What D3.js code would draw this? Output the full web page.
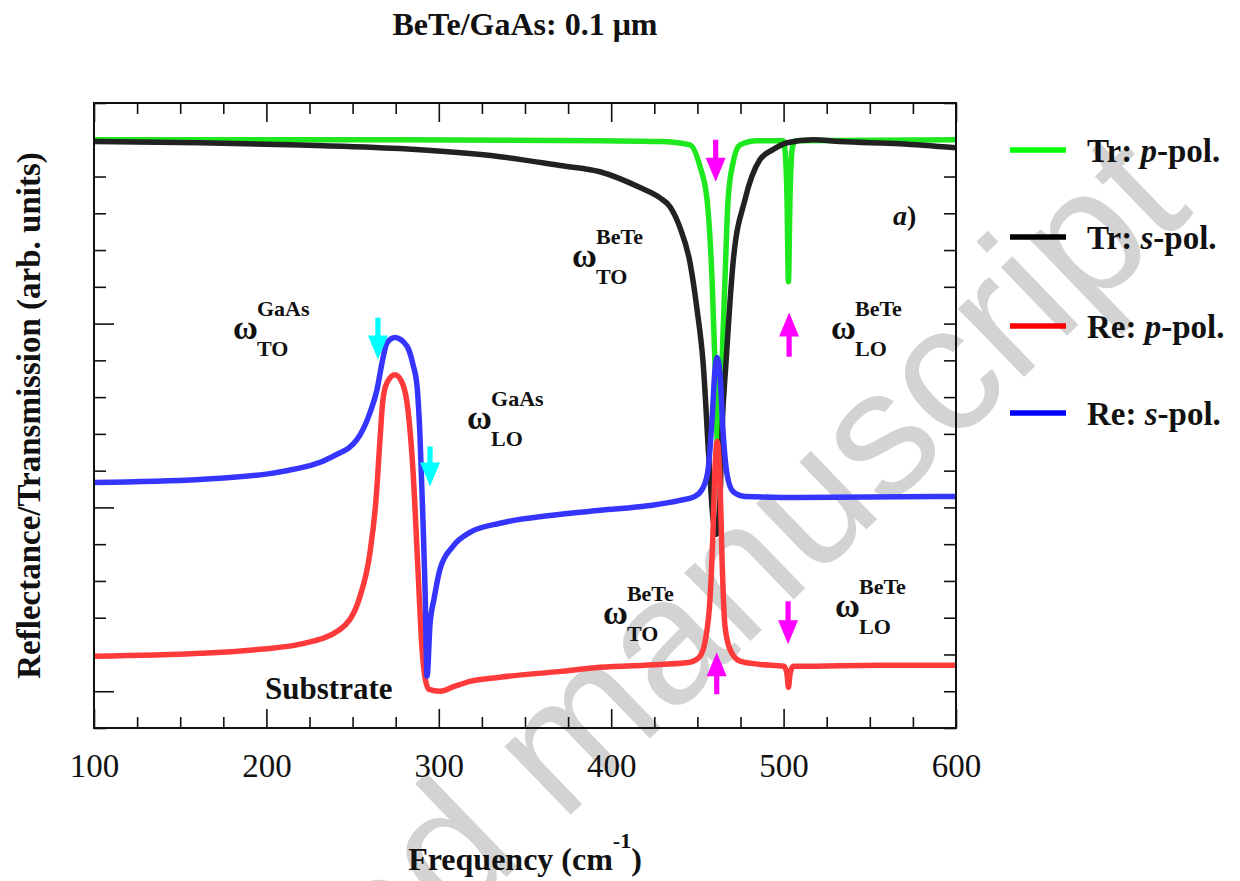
<!DOCTYPE html>
<html><head><meta charset="utf-8">
<script src="https://cdn.jsdelivr.net/npm/d3@7"></script>
<style>body{margin:0;background:#fff}</style>
</head><body>
<svg id="c" width="1240" height="881"></svg>
<script>
// ---------- data ----------
const xMajorTicks = [100, 200, 300, 400, 500, 600];
const yMajorTicks = [0, 0.5, 1.0, 1.5];

// Transmission, p-polarization (green)
const trP = [[100,1.500],[277.5,1.500],[393.5,1.497],[428.3,1.495],[445.7,1.486],[451.5,1.427],[455.6,1.337],[458.5,1.120],[460.2,0.894],[461.4,0.685],[462.0,0.603],[463.1,0.685],[464.3,0.894],[466.0,1.120],[467.8,1.337],[470.7,1.438],[474.7,1.486],[484.6,1.497],[499.7,1.497],[500.8,1.473],[502.0,1.337],[502.8,1.114],[503.7,1.337],[504.9,1.473],[506.6,1.497],[600,1.500]];
// Transmission, s-polarization (black)
const trS = [[100,1.495],[161.5,1.492],[219.5,1.486],[277.5,1.476],[335.5,1.454],[370.3,1.430],[393.5,1.413],[416.7,1.370],[428.3,1.342],[434.1,1.318],[439.9,1.261],[445.7,1.166],[449.8,1.038],[453.3,0.894],[456.8,0.622],[459.1,0.467],[460.9,0.427],[463.1,0.522],[464.3,0.712],[466.6,0.894],[470.7,1.166],[477.6,1.337],[486.3,1.446],[493.8,1.473],[502.0,1.492],[517.1,1.500],[532.7,1.495],[567.5,1.489],[600,1.478]];
// Reflectance, p-polarization (red)
const reP = [[100,0.095],[161.5,0.103],[196.3,0.114],[219.5,0.128],[242.7,0.168],[254.3,0.258],[260.1,0.378],[263.6,0.522],[265.9,0.685],[267.6,0.793],[270.0,0.840],[274.6,0.861],[279.2,0.834],[282.1,0.766],[285.0,0.603],[287.9,0.332],[290.3,0.114],[292.0,0.038],[294.3,0.005],[300.7,0.000],[309.4,0.014],[318.1,0.027],[335.5,0.038],[370.3,0.054],[393.5,0.065],[428.3,0.073],[445.7,0.079],[451.5,0.095],[455.0,0.149],[457.3,0.250],[459.1,0.440],[460.2,0.603],[461.4,0.679],[463.1,0.576],[464.3,0.359],[466.0,0.177],[468.9,0.114],[474.7,0.082],[486.3,0.073],[500.2,0.068],[502.0,0.046],[502.8,0.011],[503.7,0.046],[505.5,0.068],[509.5,0.068],[555.9,0.071],[600,0.071]];
// Reflectance, s-polarization (blue)
const reS = [[100,0.568],[161.5,0.576],[209.6,0.598],[238.6,0.639],[252.6,0.685],[260.1,0.758],[264.2,0.821],[267.1,0.894],[270.0,0.948],[274.6,0.962],[281.6,0.938],[285.0,0.889],[287.4,0.829],[289.1,0.693],[290.8,0.467],[292.0,0.285],[293.2,0.041],[294.9,0.182],[297.2,0.250],[300.7,0.332],[308.2,0.394],[318.1,0.432],[335.5,0.457],[364.5,0.478],[393.5,0.492],[422.5,0.505],[439.9,0.519],[448.6,0.530],[453.3,0.554],[456.2,0.603],[458.5,0.739],[460.2,0.875],[461.4,0.908],[463.1,0.861],[464.8,0.712],[467.2,0.590],[470.7,0.543],[477.6,0.530],[509.5,0.527],[600,0.530]];

const seriesNames  = ["Tr: p-pol.", "Tr: s-pol.", "Re: p-pol.", "Re: s-pol."];
const seriesColors = ["#1ee81e", "#222222", "#ff3a3a", "#3535ff"];
const legendColors = ["#00ff00", "#000000", "#ff0000", "#0000ff"];

// annotation arrows: frequency, tail value, tip value
const arrowsMagenta = [[460.6,1.500,1.386],[503.2,0.910,1.030],[502.6,0.245,0.128],[461.2,-0.008,0.106]];
const arrowsCyan    = [[264.7,1.016,0.902],[294.9,0.666,0.557]];

// phonon labels: frequency, value (omega baseline), superscript, subscript
const phononLabels = [[180.6,0.957,"GaAs","TO"],[316.4,0.712,"GaAs","LO"],[377.3,1.155,"BeTe","TO"],[527.5,0.957,"BeTe","LO"],[395.2,0.182,"BeTe","TO"],[529.8,0.201,"BeTe","LO"]];

// ---------- drawing ----------
const svg = d3.select("#c");
const L = 94, R = 956, T = 103, B = 728;
const x = d3.scaleLinear().domain([100, 600]).range([L, R]);
const y = d3.scaleLinear().domain([-0.1, 1.6]).range([B, T]);
const serif = "'Liberation Serif', 'Times New Roman', serif";

// watermark
svg.append("text")
  .attr("transform", "translate(1195,212) rotate(-44)")
  .attr("text-anchor", "end")
  .attr("font-family", "'Liberation Sans', Arial, sans-serif")
  .attr("font-size", 180)
  .attr("fill", "#d3d3d3")
  .text("Accepted manuscript");

// axes ticks
const xMinor = d3.range(100, 601, 25).filter(v => !xMajorTicks.includes(v));
const yMinor = d3.range(-1, 17).map(i => Math.round(i) / 10).filter(v => !yMajorTicks.includes(v));

function styleAxis(g) {
  g.select(".domain").remove();
  g.selectAll("line").attr("stroke", "#111").attr("stroke-width", 1.6);
}
svg.append("g").attr("transform", `translate(0,${B})`)
  .call(d3.axisBottom(x).tickValues(xMajorTicks).tickSize(-19).tickPadding(26).tickFormat(d3.format("d")))
  .call(styleAxis)
  .selectAll("text").attr("font-family", serif).attr("font-size", 33).attr("fill", "#111");
svg.append("g").attr("transform", `translate(0,${B})`)
  .call(d3.axisBottom(x).tickValues(xMinor).tickSize(-11).tickFormat("")).call(styleAxis);
svg.append("g").attr("transform", `translate(0,${T})`)
  .call(d3.axisTop(x).tickValues(xMajorTicks).tickSize(-19).tickFormat("")).call(styleAxis);
svg.append("g").attr("transform", `translate(0,${T})`)
  .call(d3.axisTop(x).tickValues(xMinor).tickSize(-11).tickFormat("")).call(styleAxis);
svg.append("g").attr("transform", `translate(${L},0)`)
  .call(d3.axisLeft(y).tickValues(yMajorTicks).tickSize(-20).tickFormat("")).call(styleAxis);
svg.append("g").attr("transform", `translate(${L},0)`)
  .call(d3.axisLeft(y).tickValues(yMinor).tickSize(-12).tickFormat("")).call(styleAxis);
svg.append("g").attr("transform", `translate(${R},0)`)
  .call(d3.axisRight(y).tickValues(yMajorTicks.concat(yMinor)).tickSize(-12).tickFormat("")).call(styleAxis);

// curves
const line = d3.line().x(d => x(d[0])).y(d => y(d[1])).curve(d3.curveMonotoneX);
svg.append("clipPath").attr("id", "clip").append("rect")
  .attr("x", L).attr("y", T).attr("width", R - L).attr("height", B - T);
[trP, trS, reP, reS].forEach((s, i) => {
  svg.append("path").datum(s).attr("d", line)
    .attr("fill", "none").attr("stroke", seriesColors[i])
    .attr("stroke-width", 5.5).attr("stroke-linejoin", "round")
    .attr("clip-path", "url(#clip)");
});

// frame
svg.append("rect").attr("x", L).attr("y", T).attr("width", R - L).attr("height", B - T)
  .attr("fill", "none").attr("stroke", "#111").attr("stroke-width", 2);

// arrows
function arrowPath(a) {
  const cx = x(a[0]), ys = y(a[1]), yt = y(a[2]);
  const dir = Math.sign(yt - ys), hw = 2.6, hh = 10, hl = 24;
  const yb = yt - dir * hl;
  return `M${cx-hw},${ys}L${cx+hw},${ys}L${cx+hw},${yb}L${cx+hh},${yb}L${cx},${yt}L${cx-hh},${yb}L${cx-hw},${yb}Z`;
}
svg.selectAll(".am").data(arrowsMagenta).enter().append("path").attr("d", arrowPath).attr("fill", "#ff00ff");
svg.selectAll(".ac").data(arrowsCyan).enter().append("path").attr("d", arrowPath).attr("fill", "#00ffff");

// phonon labels
phononLabels.forEach(p => {
  const px = x(p[0]), py = y(p[1]);
  const g = svg.append("g").attr("font-family", serif).attr("font-weight", "bold").attr("fill", "#111");
  g.append("text").attr("x", px).attr("y", py).attr("font-size", 34).text("ω");
  g.append("text").attr("x", px + 24).attr("y", py - 23).attr("font-size", 22).text(p[2]);
  g.append("text").attr("x", px + 24).attr("y", py + 17).attr("font-size", 22).text(p[3]);
});

// a)
const ta = svg.append("text").attr("x", x(563.5)).attr("y", y(1.269))
  .attr("font-family", serif).attr("font-weight", "bold").attr("font-size", 28).attr("fill", "#111");
ta.append("tspan").attr("font-style", "italic").text("a");
ta.append("tspan").text(")");

// Substrate
svg.append("text").attr("x", x(199.2)).attr("y", y(-0.022))
  .attr("font-family", serif).attr("font-weight", "bold").attr("font-size", 31).attr("fill", "#111")
  .text("Substrate");

// title
svg.append("text").attr("x", 525).attr("y", 35).attr("text-anchor", "middle")
  .attr("font-family", serif).attr("font-weight", "bold").attr("font-size", 32).attr("fill", "#111")
  .text("BeTe/GaAs: 0.1 μm");

// x label
const xl = svg.append("text").attr("x", 525).attr("y", 870).attr("text-anchor", "middle")
  .attr("font-family", serif).attr("font-weight", "bold").attr("font-size", 32).attr("fill", "#111");
xl.append("tspan").text("Frequency (cm");
xl.append("tspan").attr("dy", -22).attr("font-size", 22).text("-1");
xl.append("tspan").attr("dy", 22).text(")");

// y label
svg.append("text").attr("transform", `translate(40,${(T + B) / 2}) rotate(-90)`)
  .attr("text-anchor", "middle")
  .attr("font-family", serif).attr("font-weight", "bold").attr("font-size", 33).attr("fill", "#111")
  .text("Reflectance/Transmission (arb. units)");

// legend
const legendY = [150, 237, 326, 413];
seriesNames.forEach((n, i) => {
  svg.append("line").attr("x1", 1010).attr("x2", 1066).attr("y1", legendY[i]).attr("y2", legendY[i])
    .attr("stroke", legendColors[i]).attr("stroke-width", 5.5);
  const parts = n.split(/(p|s)(?=-)/);
  const t = svg.append("text").attr("x", 1087).attr("y", legendY[i] + 12)
    .attr("font-family", serif).attr("font-weight", "bold").attr("font-size", 33).attr("fill", "#111");
  t.append("tspan").text(parts[0]);
  t.append("tspan").attr("font-style", "italic").text(parts[1]);
  t.append("tspan").text(parts[2]);
});
</script>
</body></html>
